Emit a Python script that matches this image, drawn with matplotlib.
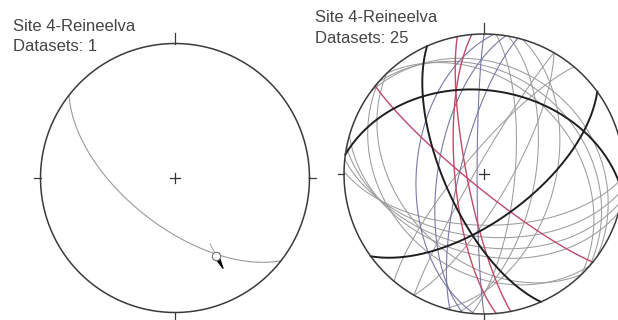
"""
Lower-hemisphere equal-area (Schmidt) plots of fault planes, Site 4-Reineelva
"""

import numpy as np
import matplotlib.pyplot as plt

# --- data -------------------------------------------------------------
site_name = 'Site 4-Reineelva'

# single fault with striation (dip direction / dip, trend / plunge)
left_dd = 218
left_dip = 61
lin_trend = 152
lin_plunge = 35

# all measured planes, grouped by how they are drawn
black_dd = [246, 8, 144]
black_dip = [67, 40, 63]

red_dd = [219, 265, 259]
red_dip = [82, 73, 80]

blue_dd = [274, 279, 284, 270]
blue_dip = [50, 63, 76, 86]

gray_dd = [41, 46, 36, 186, 191, 181, 196, 310, 100, 95, 106, 221, 226, 300, 120]
gray_dip = [30, 36, 24, 53, 47, 60, 42, 78, 60, 72, 48, 32, 40, 85, 75]

n_left = 1
n_right = len(black_dd) + len(red_dd) + len(blue_dd) + len(gray_dd)


def plane_trace(dd, dip, n=241):
    """Great circle of a plane in equal-area projection (unit primitive)."""
    ddr, dipr = np.radians(dd), np.radians(dip)
    strike = ddr - np.pi / 2
    s = np.array([np.sin(strike), np.cos(strike), 0.0])
    d = np.array([np.sin(ddr) * np.cos(dipr), np.cos(ddr) * np.cos(dipr), -np.sin(dipr)])
    t = np.linspace(0, np.pi, n)
    v = np.outer(np.cos(t), s) + np.outer(np.sin(t), d)
    k = 1.0 / np.sqrt(1.0 - v[:, 2])
    return v[:, 0] * k, v[:, 1] * k


def line_point(trend, plunge):
    tr, pl = np.radians(trend), np.radians(plunge)
    x, y, z = np.sin(tr) * np.cos(pl), np.cos(tr) * np.cos(pl), -np.sin(pl)
    k = 1.0 / np.sqrt(1.0 - z)
    return x * k, y * k


W, H = 618, 320
fig = plt.figure(figsize=(W / 100, H / 100), dpi=100)
fig.patch.set_facecolor('white')


def make_net(cx, cy, R):
    """Axes whose unit circle sits at pixel centre (cx, cy) with radius R."""
    half = 1.25 * R
    ax = fig.add_axes([(cx - half) / W, (H - cy - half) / H, 2 * half / W, 2 * half / H])
    ax.set_xlim(-1.25, 1.25)
    ax.set_ylim(-1.25, 1.25)
    ax.set_aspect('equal')
    ax.axis('off')
    th = np.linspace(0, 2 * np.pi, 400)
    ax.plot(np.cos(th), np.sin(th), color='#3a3a3a', lw=1.1, zorder=5)
    # N / E / S / W ticks and centre cross
    ax.plot([0, 0], [1, 1.08], color='#3a3a3a', lw=0.9)
    ax.plot([0, 0], [-1, -1.06], color='#3a3a3a', lw=0.9)
    ax.plot([1, 1.045], [0, 0], color='#3a3a3a', lw=0.9)
    ax.plot([-1, -1.045], [0, 0], color='#3a3a3a', lw=0.9)
    ax.plot([-0.035, 0.035], [0, 0], color='#333333', lw=0.9, zorder=6)
    ax.plot([0, 0], [-0.035, 0.035], color='#333333', lw=0.9, zorder=6)
    return ax


# left net: one fault plane with slickenside lineation
axL = make_net(175, 178, 134.5)
x, y = plane_trace(left_dd, left_dip)
axL.plot(x, y, color='#9a9a9a', lw=0.8)
px, py = line_point(lin_trend, lin_plunge)
ux, uy = np.array([px, py]) / np.hypot(px, py)
axL.plot([px - 0.1 * ux, px], [py - 0.1 * uy, py], color='#a0a0a0', lw=0.7)
axL.annotate('', xy=(px + 0.13 * ux, py + 0.13 * uy), xytext=(px + 0.03 * ux, py + 0.03 * uy),
             arrowprops=dict(arrowstyle='-|>,head_length=0.8,head_width=0.14',
                             color='black', lw=0.8, shrinkA=0, shrinkB=0,
                             mutation_scale=10))
axL.plot(px, py, 'o', ms=6, mfc='white', mec='#707070', mew=0.8, zorder=7)

# right net: all planes
axR = make_net(484, 174, 140)
for dd, dip in zip(gray_dd, gray_dip):
    x, y = plane_trace(dd, dip)
    axR.plot(x, y, color='#9c9c9c', lw=0.75)
for dd, dip in zip(blue_dd, blue_dip):
    x, y = plane_trace(dd, dip)
    axR.plot(x, y, color='#7878a8', lw=0.8)
for dd, dip in zip(red_dd, red_dip):
    x, y = plane_trace(dd, dip)
    axR.plot(x, y, color='#c04a68', lw=1.0)
for dd, dip in zip(black_dd, black_dip):
    x, y = plane_trace(dd, dip)
    axR.plot(x, y, color='#1e1e1e', lw=1.4)

# headers
font = dict(family=['Liberation Sans', 'DejaVu Sans'], size=12, color='#444444',
            va='baseline', ha='left')
fig.text(13 / W, 1 - 31 / H, site_name, **font)
fig.text(13 / W, 1 - 51 / H, f'Datasets: {n_left}', **font)
fig.text(315 / W, 1 - 22 / H, site_name, **font)
fig.text(315 / W, 1 - 43 / H, f'Datasets: {n_right}', **font)

fig.savefig('out.png', dpi=100, facecolor='white')
